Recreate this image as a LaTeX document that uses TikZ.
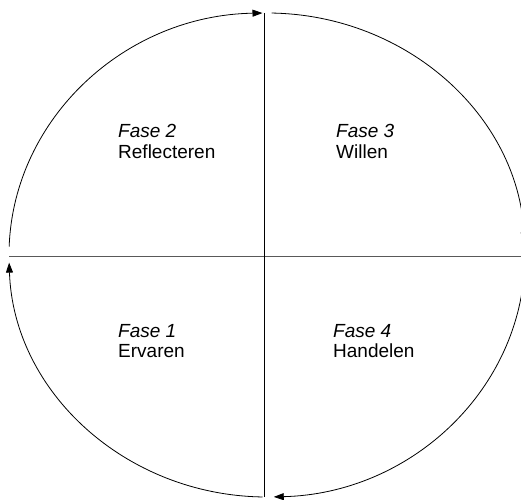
\documentclass[tikz,border=0pt]{standalone}
\usepackage{fontspec}
\setmainfont{Liberation Sans}
\usetikzlibrary{arrows.meta}
\begin{document}
\begin{tikzpicture}[x=1pt,y=1pt,
  arcline/.style={line width=0.8pt},
  arcarrow/.style={line width=0.8pt,-{Triangle[length=10pt,width=7pt]}},
  axisv/.style={line width=0.9pt},
  axish/.style={line width=1pt,black!65},
  phase/.style={anchor=base west,inner sep=0pt,font=\fontsize{19}{22}\selectfont\itshape},
  pname/.style={anchor=base west,inner sep=0pt,font=\fontsize{19}{22}\selectfont}]
\useasboundingbox (0,0) rectangle (521,499);
\clip (0,0) rectangle (521,499);
\coordinate (C) at (267,244);
\coordinate (T) at (264,486);
\coordinate (B) at (264,2);
\coordinate (L) at (9,243);
\coordinate (R) at (521,243);
% axes
\draw[axish] (L) -- (R);
\draw[axisv] (T) -- (B);
% arcs
\draw[arcarrow] ([shift={(178:258pt and 242pt)}]C) arc[start angle=178,end angle=91,x radius=258pt,y radius=242pt];
\draw[arcarrow] ([shift={(89:258pt and 242pt)}]C) arc[start angle=89,end angle=3,x radius=258pt,y radius=242pt];
\draw[arcarrow] ([shift={(-3:258pt and 242pt)}]C) arc[start angle=-3,end angle=-88.5,x radius=258pt,y radius=242pt];
\draw[arcarrow] ([shift={(-91:258pt and 242pt)}]C) arc[start angle=-91,end angle=-178.2,x radius=258pt,y radius=242pt];
% texts
\node[phase] (f2) at (118,362) {Fase 2};
\node[pname] (n2) at (118,341) {Reflecteren};
\node[phase] (f3) at (336,362) {Fase 3};
\node[pname] (n3) at (336,341) {Willen};
\node[phase] (f1) at (118,162) {Fase 1};
\node[pname] (n1) at (118,142) {Ervaren};
\node[phase] (f4) at (333,162) {Fase 4};
\node[pname] (n4) at (333,142) {Handelen};
\end{tikzpicture}
\end{document}
